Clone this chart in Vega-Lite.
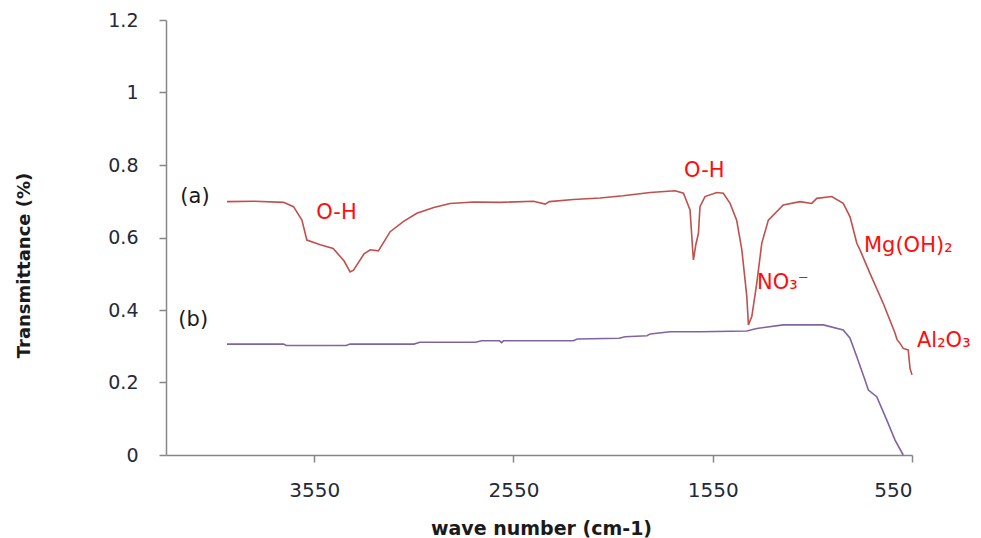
{
  "$schema": "https://vega.github.io/schema/vega-lite/v6.json",
  "width": 746,
  "height": 435,
  "autosize": "none",
  "padding": {"left": 166, "top": 20, "right": 69, "bottom": 83},
  "background": "white",
  "config": {"view": {"stroke": null}, "font": "DejaVu Sans"},
  "datasets": {
    "spectra": [
      {"wn": 3988, "t": 0.699, "s": "a"}, {"wn": 3850, "t": 0.700, "s": "a"}, {"wn": 3704, "t": 0.697, "s": "a"},
      {"wn": 3654, "t": 0.685, "s": "a"}, {"wn": 3612, "t": 0.648, "s": "a"}, {"wn": 3587, "t": 0.593, "s": "a"},
      {"wn": 3520, "t": 0.580, "s": "a"}, {"wn": 3455, "t": 0.570, "s": "a"}, {"wn": 3400, "t": 0.535, "s": "a"},
      {"wn": 3370, "t": 0.505, "s": "a"}, {"wn": 3353, "t": 0.510, "s": "a"}, {"wn": 3300, "t": 0.555, "s": "a"},
      {"wn": 3269, "t": 0.566, "s": "a"}, {"wn": 3228, "t": 0.563, "s": "a"}, {"wn": 3169, "t": 0.616, "s": "a"},
      {"wn": 3100, "t": 0.645, "s": "a"}, {"wn": 3035, "t": 0.667, "s": "a"}, {"wn": 2950, "t": 0.683, "s": "a"},
      {"wn": 2868, "t": 0.694, "s": "a"}, {"wn": 2750, "t": 0.698, "s": "a"}, {"wn": 2617, "t": 0.697, "s": "a"},
      {"wn": 2450, "t": 0.700, "s": "a"}, {"wn": 2391, "t": 0.692, "s": "a"}, {"wn": 2370, "t": 0.699, "s": "a"},
      {"wn": 2250, "t": 0.705, "s": "a"}, {"wn": 2115, "t": 0.709, "s": "a"}, {"wn": 2000, "t": 0.715, "s": "a"},
      {"wn": 1864, "t": 0.724, "s": "a"}, {"wn": 1739, "t": 0.729, "s": "a"}, {"wn": 1697, "t": 0.722, "s": "a"},
      {"wn": 1664, "t": 0.676, "s": "a"}, {"wn": 1650, "t": 0.560, "s": "a"}, {"wn": 1647, "t": 0.538, "s": "a"},
      {"wn": 1635, "t": 0.580, "s": "a"}, {"wn": 1622, "t": 0.611, "s": "a"}, {"wn": 1614, "t": 0.685, "s": "a"},
      {"wn": 1589, "t": 0.713, "s": "a"}, {"wn": 1530, "t": 0.724, "s": "a"}, {"wn": 1497, "t": 0.722, "s": "a"},
      {"wn": 1463, "t": 0.694, "s": "a"}, {"wn": 1430, "t": 0.648, "s": "a"}, {"wn": 1404, "t": 0.566, "s": "a"},
      {"wn": 1379, "t": 0.437, "s": "a"}, {"wn": 1371, "t": 0.359, "s": "a"}, {"wn": 1354, "t": 0.382, "s": "a"},
      {"wn": 1329, "t": 0.474, "s": "a"}, {"wn": 1304, "t": 0.584, "s": "a"}, {"wn": 1271, "t": 0.648, "s": "a"},
      {"wn": 1196, "t": 0.690, "s": "a"}, {"wn": 1112, "t": 0.699, "s": "a"}, {"wn": 1053, "t": 0.694, "s": "a"},
      {"wn": 1028, "t": 0.708, "s": "a"}, {"wn": 953, "t": 0.713, "s": "a"}, {"wn": 895, "t": 0.694, "s": "a"},
      {"wn": 861, "t": 0.657, "s": "a"}, {"wn": 827, "t": 0.584, "s": "a"}, {"wn": 811, "t": 0.566, "s": "a"},
      {"wn": 761, "t": 0.501, "s": "a"}, {"wn": 694, "t": 0.418, "s": "a"}, {"wn": 635, "t": 0.336, "s": "a"},
      {"wn": 625, "t": 0.318, "s": "a"}, {"wn": 610, "t": 0.308, "s": "a"}, {"wn": 594, "t": 0.294, "s": "a"},
      {"wn": 569, "t": 0.290, "s": "a"}, {"wn": 560, "t": 0.239, "s": "a"}, {"wn": 550, "t": 0.221, "s": "a"},
      {"wn": 3988, "t": 0.306, "s": "b"}, {"wn": 3704, "t": 0.306, "s": "b"}, {"wn": 3690, "t": 0.302, "s": "b"},
      {"wn": 3390, "t": 0.302, "s": "b"}, {"wn": 3370, "t": 0.306, "s": "b"}, {"wn": 3050, "t": 0.306, "s": "b"},
      {"wn": 3020, "t": 0.311, "s": "b"}, {"wn": 2740, "t": 0.311, "s": "b"}, {"wn": 2710, "t": 0.315, "s": "b"},
      {"wn": 2620, "t": 0.315, "s": "b"}, {"wn": 2610, "t": 0.310, "s": "b"}, {"wn": 2600, "t": 0.315, "s": "b"},
      {"wn": 2250, "t": 0.315, "s": "b"}, {"wn": 2230, "t": 0.320, "s": "b"}, {"wn": 2020, "t": 0.322, "s": "b"},
      {"wn": 1990, "t": 0.326, "s": "b"}, {"wn": 1880, "t": 0.329, "s": "b"}, {"wn": 1864, "t": 0.334, "s": "b"},
      {"wn": 1764, "t": 0.340, "s": "b"}, {"wn": 1614, "t": 0.340, "s": "b"}, {"wn": 1379, "t": 0.342, "s": "b"},
      {"wn": 1329, "t": 0.349, "s": "b"}, {"wn": 1196, "t": 0.359, "s": "b"}, {"wn": 995, "t": 0.359, "s": "b"},
      {"wn": 895, "t": 0.345, "s": "b"}, {"wn": 861, "t": 0.322, "s": "b"}, {"wn": 827, "t": 0.271, "s": "b"},
      {"wn": 786, "t": 0.207, "s": "b"}, {"wn": 769, "t": 0.179, "s": "b"}, {"wn": 727, "t": 0.161, "s": "b"},
      {"wn": 677, "t": 0.097, "s": "b"}, {"wn": 635, "t": 0.041, "s": "b"}, {"wn": 594, "t": 0.0, "s": "b"}
    ],
    "notes": [
      {"wn": 3540, "t": 0.668, "label": "O-H", "kind": "peak"},
      {"wn": 1694, "t": 0.783, "label": "O-H", "kind": "peak"},
      {"wn": 1328, "t": 0.474, "label": "NO₃⁻", "kind": "peak"},
      {"wn": 791, "t": 0.577, "label": "Mg(OH)₂", "kind": "peak"},
      {"wn": 525, "t": 0.314, "label": "Al₂O₃", "kind": "peak"},
      {"wn": 4222, "t": 0.712, "label": "(a)", "kind": "series"},
      {"wn": 4232, "t": 0.372, "label": "(b)", "kind": "series"}
    ]
  },
  "layer": [
    {
      "data": {"name": "spectra"},
      "mark": {"type": "line", "strokeWidth": 1.6, "interpolate": "linear"},
      "encoding": {
        "x": {
          "field": "wn", "type": "quantitative",
          "scale": {"domain": [550, 4294], "reverse": true, "nice": false, "zero": false},
          "axis": {
            "title": "wave number (cm-1)",
            "values": [3550, 2550, 1550, 550],
            "format": "d",
            "grid": false,
            "domainColor": "#868686", "domainWidth": 1.5,
            "tickColor": "#868686", "tickSize": 7, "tickWidth": 1.5,
            "labelFont": "DejaVu Sans", "labelFontSize": 20, "labelColor": "#1f2a3a",
            "labelBaseline": "middle", "labelPadding": 28,
            "titleFont": "DejaVu Sans", "titleFontSize": 19, "titleFontWeight": "bold", "titleColor": "#1a1a1a",
            "titleX": 375, "titleY": 73, "titleBaseline": "middle", "titleAlign": "center"
          }
        },
        "y": {
          "field": "t", "type": "quantitative",
          "scale": {"domain": [0, 1.2], "nice": false},
          "axis": {
            "title": "Transmittance (%)",
            "values": [0, 0.2, 0.4, 0.6, 0.8, 1, 1.2],
            "format": "~g",
            "grid": false,
            "domainColor": "#868686", "domainWidth": 1.5,
            "tickColor": "#868686", "tickSize": 7, "tickWidth": 1.5,
            "labelFont": "DejaVu Sans", "labelFontSize": 19, "labelColor": "#1f2a3a",
            "labelPadding": 21,
            "titleFont": "DejaVu Sans", "titleFontSize": 18, "titleFontWeight": "bold", "titleColor": "#1a1a1a",
            "titleX": -142, "titleY": 245, "titleAngle": 270, "titleAlign": "center", "titleBaseline": "middle"
          }
        },
        "color": {
          "field": "s", "type": "nominal",
          "scale": {"domain": ["a", "b"], "range": ["#C0504D", "#8064A2"]},
          "legend": null
        }
      }
    },
    {
      "data": {"name": "notes"},
      "mark": {"type": "text", "align": "left", "baseline": "middle", "fontSize": 21, "font": "DejaVu Sans"},
      "encoding": {
        "x": {"field": "wn", "type": "quantitative"},
        "y": {"field": "t", "type": "quantitative"},
        "text": {"field": "label"},
        "color": {
          "field": "kind", "type": "nominal",
          "scale": {"domain": ["peak", "series"], "range": ["#FF0D0D", "#1a1a1a"]},
          "legend": null
        }
      }
    }
  ],
  "resolve": {"scale": {"color": "independent"}}
}
